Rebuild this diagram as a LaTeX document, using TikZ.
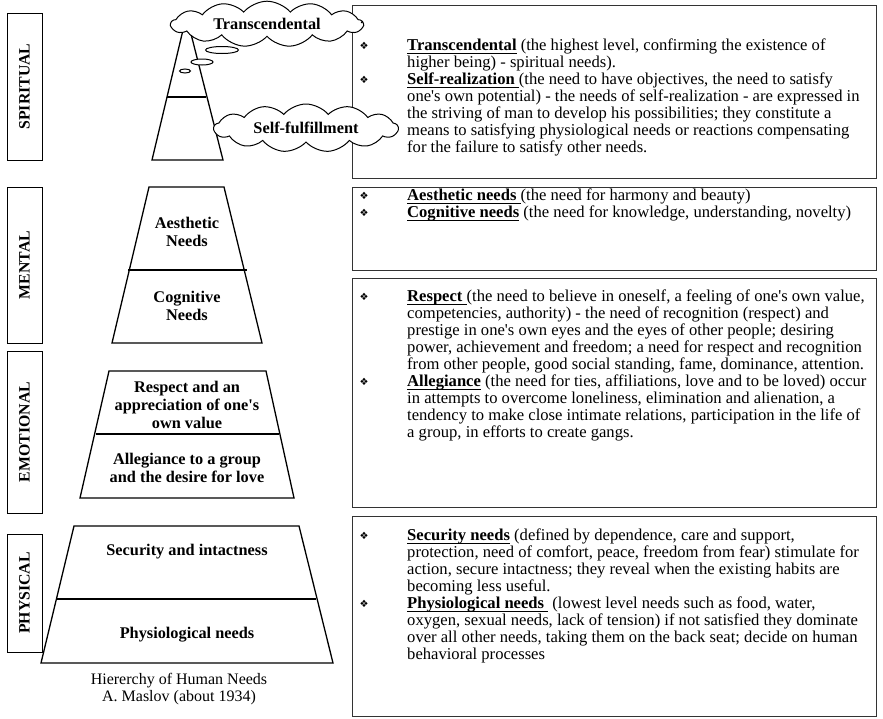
\documentclass[tikz,border=0pt]{standalone}
\usepackage{fontspec}
\setmainfont{Liberation Serif}[Ligatures=TeXOff]
\newfontfamily\dingfont{DejaVu Sans}
\usetikzlibrary{shapes.symbols}

\newcommand{\bodysize}{\fontsize{16.6}{17}\selectfont}
\newcommand{\lblsize}{\fontsize{16.3}{18}\selectfont}
\newcommand{\capsize}{\fontsize{16}{17}\selectfont}
\newcommand{\tagsize}{\fontsize{15.8}{16}\selectfont}
\newcommand{\bul}{{\dingfont\fontsize{10}{10}\selectfont ❖}}
\newcommand{\key}[1]{\setbox0\hbox{\textbf{#1}}\rlap{\rule[-3.6pt]{\wd0}{1.3pt}}\box0\relax}

\begin{document}
\begin{tikzpicture}[x=1pt, y=-1pt, every node/.style={inner sep=0pt},
  tier/.style={line width=1.3pt},
  tag/.style={draw, line width=1pt, rotate=90, minimum height=35, font=\tagsize\bfseries},
  panel/.style={draw, line width=1pt, black!80},
  lbl/.style={align=center, font=\lblsize\bfseries},
  body/.style={anchor=north west, align=left, font=\bodysize},
  puff/.style={cloud, draw, fill=white, line width=1pt, cloud puffs=13, cloud puff arc=100,
    cloud ignores aspect, inner xsep=6pt, inner ysep=4pt, font=\lblsize\bfseries}]
\useasboundingbox (0,0) rectangle (883,718);
% --- level tags ---
\node[tag, minimum width=147] (spiritual) at (24.5,86.5) {SPIRITUAL};
\node[tag, minimum width=156] (mental)    at (24.5,265)  {MENTAL};
\node[tag, minimum width=162] (emotional) at (24.5,432)  {EMOTIONAL};
\node[tag, minimum width=118] (physical)  at (24.5,593)  {PHYSICAL};
% --- description panels ---
\draw[panel] (352,5) rectangle (876,178);
\draw[panel] (352,187) rectangle (876,270);
\draw[panel] (352,278) rectangle (876,507);
\draw[panel] (352,516) rectangle (876,716);
% --- pyramid ---
\draw[tier] (152,160) -- (183,30) -- (190,30) -- (223,160) -- cycle;
\draw[tier] (167,97) -- (206,97);
\draw[tier] (112,343) -- (149,187) -- (224,187) -- (262,343) -- cycle;
\draw[tier] (128,270) -- (247,270);
\draw[tier] (80,498) -- (109,371) -- (266,371) -- (294,498) -- cycle;
\draw[tier] (96,434) -- (279,434);
\draw[tier] (41,663) -- (74,526) -- (299,526) -- (333,663) -- cycle;
\draw[tier] (57,599) -- (316,599);
% thought bubbles
\draw[line width=1pt, fill=white] (222,50) ellipse (16.5 and 3.5);
\draw[line width=1pt, fill=white] (202,62) ellipse (11 and 3);
\draw[line width=1pt, fill=white] (185,71) ellipse (5.5 and 2);
\node[puff, minimum width=192, minimum height=40] (transc) at (267,24) {Transcendental};
\node[puff, minimum width=184, minimum height=48] (selff) at (306,128) {Self-fulfillment};
\node[lbl] (aesth) at (187,232)   {Aesthetic\\Needs};
\node[lbl] (cogn)  at (187,305.5) {Cognitive\\Needs};
\node[lbl] (resp)  at (187,405)   {Respect and an\\appreciation of one's\\own value};
\node[lbl] (alleg) at (187,467.5) {Allegiance to a group\\and the desire for love};
\node[lbl] (secur) at (187,552)   {Security and intactness};
\node[lbl] (physio) at (187,635)  {Physiological needs};
\node[align=center, font=\capsize] (caption) at (179,689.5) {Hiererchy of Human Needs\\A. Maslov (about 1934)};
% --- description texts ---
\node[font=\bodysize] (dot) at (362,23) {.};
\node (b1) at (364,46) {\bul};
\node (b2) at (364,80) {\bul};
\node[body] (spirtext) at (407,38.5) {\key{Transcendental} (the highest level, confirming the existence of\\
higher being) - spiritual needs).\\
\key{Self-realization\ }(the need to have objectives, the need to satisfy\\
one's own potential) - the needs of self-realization - are expressed in\\
the striving of man to develop his possibilities; they constitute a\\
means to satisfying physiological needs or reactions compensating\\
for the failure to satisfy other needs.};
\node (b3) at (364,196) {\bul};
\node (b4) at (364,213) {\bul};
\node[body] (menttext) at (407,188.5) {\key{Aesthetic needs\ }(the need for harmony and beauty)\\
\key{Cognitive needs} (the need for knowledge, understanding, novelty)};
\node (b5) at (364,297) {\bul};
\node (b6) at (364,382) {\bul};
\node[body] (emotext) at (407,289.5) {\key{Respect\ }(the need to believe in oneself, a feeling of one's own value,\\
competencies, authority) - the need of recognition (respect) and\\
prestige in one's own eyes and the eyes of other people; desiring\\
power, achievement and freedom; a need for respect and recognition\\
from other people, good social standing, fame, dominance, attention.\\
\key{Allegiance} (the need for ties, affiliations, love and to be loved) occur\\
in attempts to overcome loneliness, elimination and alienation, a\\
tendency to make close intimate relations, participation in the life of\\
a group, in efforts to create gangs.};
\node (b7) at (364,536) {\bul};
\node (b8) at (364,604) {\bul};
\node[body] (phystext) at (407,528.5) {\key{Security needs} (defined by dependence, care and support,\\
protection, need of comfort, peace, freedom from fear) stimulate for\\
action, secure intactness; they reveal when the existing habits are\\
becoming less useful.\\
\key{Physiological needs\ }\ (lowest level needs such as food, water,\\
oxygen, sexual needs, lack of tension) if not satisfied they dominate\\
over all other needs, taking them on the back seat; decide on human\\
behavioral processes};
\end{tikzpicture}
\end{document}
